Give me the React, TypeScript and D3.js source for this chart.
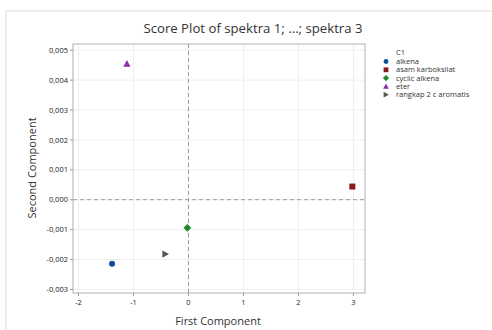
import React from 'react';
import * as d3 from 'd3';

const groups = ['alkena', 'asam karboksilat', 'cyclic alkena', 'eter', 'rangkap 2 c aromatis'];
const firstComp = [-1.39, 2.98, -0.02, -1.12, -0.42];
const secondComp = [-0.00214, 0.00044, -0.00094, 0.00455, -0.00182];
const colors = ['#0b4f9c', '#8b1c1c', '#1f8a2a', '#8a2fb0', '#555555'];
const shapes = ['circle', 'square', 'diamond', 'triangle', 'right'];
const xTicks = [-2, -1, 0, 1, 2, 3];
const yTicks = [-0.003, -0.002, -0.001, 0, 0.001, 0.002, 0.003, 0.004, 0.005];

const W = 492;
const H = 330;
const plot = { left: 73, top: 44, right: 365, bottom: 293 };
const font = '"Open Sans", "Noto Sans", sans-serif';

const marker = (shape: string, x: number, y: number, s: number, fill: string) => {
  if (shape === 'circle') return <circle cx={x} cy={y} r={s} fill={fill} />;
  if (shape === 'square') return <rect x={x - s} y={y - s} width={s * 2} height={s * 2} fill={fill} />;
  if (shape === 'diamond')
    return <path d={`M${x},${y - s * 1.3}L${x + s * 1.3},${y}L${x},${y + s * 1.3}L${x - s * 1.3},${y}Z`} fill={fill} />;
  if (shape === 'triangle')
    return <path d={`M${x},${y - s * 1.2}L${x + s * 1.2},${y + s}L${x - s * 1.2},${y + s}Z`} fill={fill} />;
  return <path d={`M${x + s * 1.2},${y}L${x - s},${y - s * 1.2}L${x - s},${y + s * 1.2}Z`} fill={fill} />;
};

const fmtY = (v: number) => d3.format('.3f')(v).replace('.', ',').replace('−', '-');

export default function App() {
  const x = d3.scaleLinear().domain([-2.1, 3.21]).range([plot.left, plot.right]);
  const y = d3.scaleLinear().domain([-0.003, 0.005]).range([289.4, 50.2]);

  return (
    <svg width={W} height={H} style={{ position: 'absolute', left: 0, top: 0, background: '#fff' }} fontFamily={font}>
      <rect x={6} y={11} width={W} height={H} fill="none" stroke="#dcdcdc" />
      <text x={253} y={33} textAnchor="middle" fontSize={13.2} fill="#333">
        Score Plot of spektra 1; ...; spektra 3
      </text>

      {/* grid */}
      <g stroke="#efefef" strokeWidth={1}>
        {xTicks.map(t => (
          <line key={'gx' + t} x1={x(t)} x2={x(t)} y1={plot.top} y2={plot.bottom} />
        ))}
        {yTicks.map(t => (
          <line key={'gy' + t} x1={plot.left} x2={plot.right} y1={y(t)} y2={y(t)} />
        ))}
      </g>

      {/* reference lines */}
      <g stroke="#999" strokeWidth={1} strokeDasharray="4,3">
        <line x1={x(0)} x2={x(0)} y1={plot.top} y2={plot.bottom} />
        <line x1={plot.left} x2={plot.right} y1={y(0)} y2={y(0)} />
      </g>

      <rect
        x={plot.left}
        y={plot.top}
        width={plot.right - plot.left}
        height={plot.bottom - plot.top}
        fill="none"
        stroke="#b0b0b0"
      />

      {/* axes */}
      <g fontSize={7.5} fill="#222">
        {xTicks.map(t => (
          <g key={'tx' + t}>
            <line x1={x(t)} x2={x(t)} y1={plot.bottom} y2={plot.bottom + 3} stroke="#999" />
            <text x={x(t)} y={plot.bottom + 12} textAnchor="middle">
              {t < 0 ? '-' + Math.abs(t) : t}
            </text>
          </g>
        ))}
        {yTicks.map(t => (
          <g key={'ty' + t}>
            <line x1={plot.left - 3} x2={plot.left} y1={y(t)} y2={y(t)} stroke="#999" />
            <text x={plot.left - 5} y={y(t) + 2.6} textAnchor="end">
              {fmtY(t)}
            </text>
          </g>
        ))}
      </g>
      <text x={218} y={325} textAnchor="middle" fontSize={11} fill="#333">
        First Component
      </text>
      <text transform="translate(36,168) rotate(-90)" textAnchor="middle" fontSize={11} fill="#333">
        Second Component
      </text>

      {/* points */}
      {groups.map((g, i) => (
        <g key={g}>{marker(shapes[i], x(firstComp[i]), y(secondComp[i]), 3, colors[i])}</g>
      ))}

      {/* legend */}
      <text x={396} y={54.5} fontSize={7.5} fill="#333">C1</text>
      {groups.map((g, i) => (
        <g key={'lg' + g}>
          {marker(shapes[i], 386, 61.5 + i * 8.3, 2.4, colors[i])}
          <text x={396} y={61.5 + i * 8.3 + 2.6} fontSize={7.5} fill="#333">
            {g}
          </text>
        </g>
      ))}
    </svg>
  );
}
